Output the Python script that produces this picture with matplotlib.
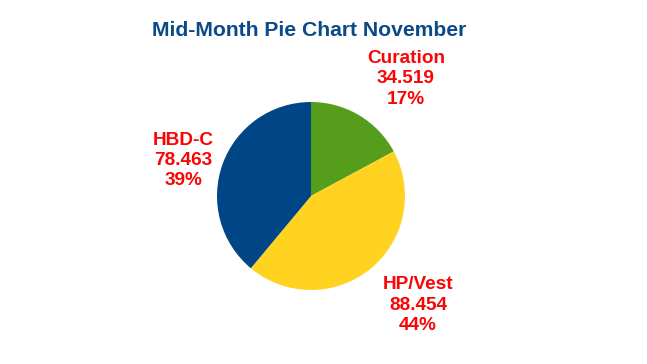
import matplotlib
matplotlib.use("Agg")
import matplotlib.pyplot as plt

categories = ["Curation", "HP/Vest", "HBD-C"]
values = [34.519, 88.454, 78.463]
percents = ["17%", "44%", "39%"]
colors = ["#579d1c", "#ffd320", "#004586"]

_TITLE = "#0b4a87"
_RED = "#fa0505"

fig = plt.figure(figsize=(6.47, 3.64), dpi=100)
fig.patch.set_facecolor("white")

# pie axes placed in pixel terms: centre (311, 196), radius 94
ax = fig.add_axes([(311 - 94) / 647, (364 - 290) / 364, 188 / 647, 188 / 364])
ax.pie(values, colors=colors, startangle=90, counterclock=False, radius=1.0)
ax.set_xlim(-1, 1)
ax.set_ylim(-1, 1)
ax.set_aspect("equal")
ax.axis("off")

label_pos = [(1.01, 1.245), (1.14, -1.16), (-1.36, 0.38)]
for name, v, p, (x, y) in zip(categories, values, percents, label_pos):
    ax.text(x, y, f"{name}\n{v:.3f}\n{p}", ha="center", va="center",
            fontsize=13.7, fontweight="bold", color=_RED,
            family="Liberation Sans", linespacing=1.25, clip_on=False)

fig.text(309 / 647, 1 - 30 / 364, "Mid-Month Pie Chart November",
         ha="center", va="center", fontsize=15.2, fontweight="bold",
         color=_TITLE, family="Liberation Sans")

fig.savefig("out.png", dpi=100)
